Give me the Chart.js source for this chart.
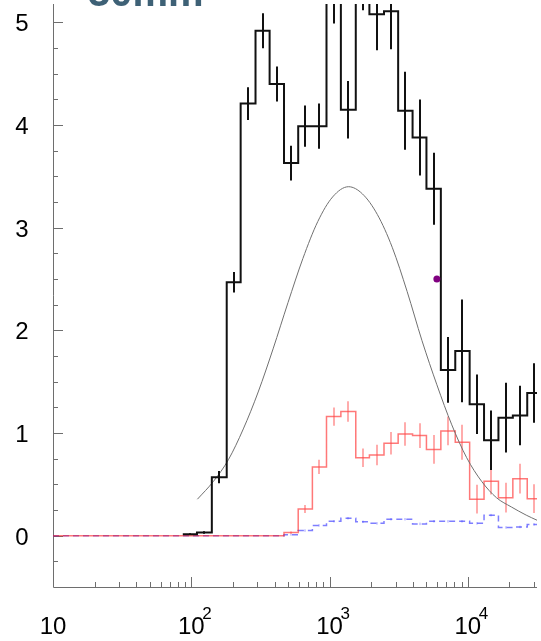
<!DOCTYPE html>
<html>
<head>
<meta charset="utf-8">
<script src="https://cdn.jsdelivr.net/npm/chart.js@4/dist/chart.umd.min.js"></script>
<style>
  html, body { margin: 0; padding: 0; background: #fff; }
  #wrap { width: 541px; height: 641px; position: relative; }
</style>
</head>
<body>
<div id="wrap"><canvas id="chart"></canvas></div>
<script>
// bin edges shared by all three histograms (log x)
const edges = [10, 86.8, 109.9, 140.8, 180.4, 227.5, 291.4, 368.5, 468.3, 593.2, 751.2, 950.1, 1207,
  1547, 1941, 2475, 3133, 3983, 5018, 6378, 8108, 10301, 13092, 16640, 21148, 26877, 34160];

const blackVals = [0, 0.015, 0.03, 0.57, 2.47, 4.21, 4.92, 4.40, 3.63, 3.99, 3.99, 5.35, 4.15,
  5.45, 5.08, 5.11, 4.14, 3.88, 3.38, 1.615, 1.80, 1.28, 0.93, 1.15, 1.17, 1.39];
const blackErrs = [0, 0.008, 0.012, 0.06, 0.1, 0.16, 0.17, 0.17, 0.17, 0.2, 0.22, 0.36, 0.28,
  0.33, 0.35, 0.37, 0.38, 0.37, 0.35, 0.32, 0.5, 0.29, 0.29, 0.34, 0.29, 0.29];

const redVals = [0, 0, 0, 0, 0, 0, 0, 0, 0.03, 0.26, 0.67, 1.16, 1.21,
  0.76, 0.785, 0.90, 0.99, 0.975, 0.84, 1.02, 0.91, 0.355, 0.53, 0.37, 0.555, 0.36];
const redErrs = [0, 0, 0, 0, 0, 0, 0, 0, 0.01, 0.04, 0.07, 0.09, 0.1,
  0.09, 0.1, 0.11, 0.115, 0.12, 0.14, 0.14, 0.17, 0.14, 0.13, 0.145, 0.145, 0.14];

const blueVals = [0, 0, 0, 0, 0, 0, 0, 0, 0.01, 0.05, 0.10, 0.14, 0.17,
  0.135, 0.12, 0.16, 0.16, 0.115, 0.14, 0.14, 0.14, 0.12, 0.20, 0.08, 0.085, 0.11];
const blueErrs = [0, 0, 0, 0, 0, 0, 0, 0, 0.01, 0.012, 0.012, 0.012, 0.012,
  0.012, 0.012, 0.012, 0.012, 0.012, 0.012, 0.012, 0.012, 0.012, 0.012, 0.012, 0.012, 0.012];

// smooth fit curve
const curveX = [110.7, 144.8, 185.5, 237.8, 304.7, 390.4, 500.3, 641.1, 821.4, 1052, 1372, 1728,
  2214, 2838, 3636, 4660, 5971, 7650, 9804, 12564, 16101, 20629, 26430, 31703];
const curveY = [0.355, 0.53, 0.74, 1.04, 1.40, 1.82, 2.27, 2.70, 3.06, 3.30, 3.40, 3.33,
  3.13, 2.81, 2.38, 1.90, 1.47, 1.08, 0.76, 0.53, 0.37, 0.28, 0.20, 0.15];

const markX = [5970];
const markY = [2.5];

const yTickVals = [0, 1, 2, 3, 4, 5];
const xTickVals = [10, 100, 1000, 10000];
const xTickExps = ['', '2', '3', '4'];
const titleText = '30mm';

function stepPoints(vals, from) {
  const pts = [];
  for (let i = from; i < vals.length; i++) pts.push({ x: edges[i], y: vals[i] });
  pts.push({ x: edges[vals.length], y: vals[vals.length - 1] });
  return pts;
}

const FONT = '"Liberation Sans", Arial, Helvetica, sans-serif';

// ROOT-like axes, ticks inside the frame
const axesPlugin = {
  id: 'rootAxes',
  beforeDatasetsDraw(chart) {
    const { ctx, chartArea: a, scales: { x, y } } = chart;
    ctx.save();
    ctx.strokeStyle = '#6e6e6e';
    ctx.lineWidth = 1;
    ctx.beginPath();
    ctx.moveTo(a.left + 0.5, a.top);
    ctx.lineTo(a.left + 0.5, a.bottom + 0.5);
    ctx.lineTo(a.right, a.bottom + 0.5);
    // y ticks every 0.25, major at integers
    for (let v = -0.25; v <= 5.2; v += 0.25) {
      const py = Math.round(y.getPixelForValue(v)) + 0.5;
      const len = Math.abs(v - Math.round(v)) < 1e-6 ? 10 : 5;
      ctx.moveTo(a.left, py);
      ctx.lineTo(a.left + len, py);
    }
    // x ticks, 1..9 per decade
    for (let d = 10; d <= 10000; d *= 10) {
      for (let m = 1; m <= 9; m++) {
        const v = d * m;
        if (v <= 10 || v > x.max) continue;
        const px = Math.round(x.getPixelForValue(v)) + 0.5;
        const len = m === 1 ? 10 : 5;
        ctx.moveTo(px, a.bottom);
        ctx.lineTo(px, a.bottom - len);
      }
    }
    ctx.stroke();

    // labels
    ctx.fillStyle = '#000';
    ctx.font = '24px ' + FONT;
    ctx.textAlign = 'center';
    ctx.textBaseline = 'alphabetic';
    yTickVals.forEach(v => {
      ctx.fillText(String(v), 22, y.getPixelForValue(v) + 9);
    });
    xTickVals.forEach((v, i) => {
      const px = x.getPixelForValue(v);
      ctx.font = '24px ' + FONT;
      ctx.textAlign = 'center';
      ctx.fillText('10', px, a.bottom + 47);
      if (xTickExps[i]) {
        ctx.font = '17px ' + FONT;
        ctx.textAlign = 'left';
        ctx.fillText(xTickExps[i], px + 11, a.bottom + 32);
      }
    });

    // cut-off title at the top
    ctx.fillStyle = '#3e6176';
    ctx.font = 'bold 40px ' + FONT;
    ctx.textAlign = 'left';
    ctx.fillText(titleText, 88, 6);
    ctx.restore();
  },
  afterDatasetDraw(chart, args) {
    const ds = chart.data.datasets[args.index];
    if (!ds.errs) return;
    const { ctx, chartArea: a, scales: { x, y } } = chart;
    ctx.save();
    ctx.beginPath();
    ctx.rect(a.left, a.top, a.right - a.left, a.bottom - a.top);
    ctx.clip();
    ctx.strokeStyle = ds.errColor;
    ctx.lineWidth = ds.errWidth;
    ctx.setLineDash([]);
    ds.errs.forEach((e, i) => {
      if (!e) return;
      const cx = Math.round(x.getPixelForValue(Math.sqrt(edges[i] * edges[i + 1])));
      ctx.beginPath();
      ctx.moveTo(cx, y.getPixelForValue(ds.vals[i] - e));
      ctx.lineTo(cx, y.getPixelForValue(ds.vals[i] + e));
      ctx.stroke();
    });
    ctx.restore();
  }
};

const ctx = document.getElementById('chart').getContext('2d');
new Chart(ctx, {
  type: 'line',
  data: {
    datasets: [
      {
        label: 'point',
        type: 'scatter',
        data: markX.map((v, i) => ({ x: v, y: markY[i] })),
        pointRadius: 3.5,
        pointBackgroundColor: '#800080',
        pointBorderWidth: 0
      },
      {
        label: 'data',
        data: stepPoints(blackVals, 1),
        vals: blackVals, errs: blackErrs, errColor: '#111', errWidth: 2,
        stepped: true,
        borderColor: '#111',
        borderWidth: 2,
        pointRadius: 0
      },
      {
        label: 'fit',
        data: curveX.map((v, i) => ({ x: v, y: curveY[i] })),
        borderColor: '#707070',
        borderWidth: 1,
        pointRadius: 0,
        cubicInterpolationMode: 'monotone'
      },
      {
        label: 'red',
        data: stepPoints(redVals, 0),
        vals: redVals, errs: redErrs, errColor: 'rgba(255,70,70,0.45)', errWidth: 2,
        stepped: true,
        borderColor: 'rgba(255,30,30,0.6)',
        borderWidth: 1.5,
        pointRadius: 0
      },
      {
        label: 'blue',
        data: stepPoints(blueVals, 0),
        vals: blueVals, errs: blueErrs, errColor: 'rgba(60,60,255,0.5)', errWidth: 1,
        stepped: true,
        borderColor: 'rgba(40,40,255,0.6)',
        borderWidth: 1.5,
        borderDash: [6, 4],
        pointRadius: 0
      }
    ]
  },
  options: {
    responsive: true,
    maintainAspectRatio: false,
    animation: false,
    layout: { padding: { left: 53, right: 0, top: 0, bottom: 54 } },
    plugins: { legend: { display: false }, tooltip: { enabled: false } },
    scales: {
      x: { type: 'logarithmic', min: 10, max: 31623, display: false },
      y: { type: 'linear', min: -0.5, max: 5.18, display: false }
    }
  },
  plugins: [axesPlugin]
});
</script>
</body>
</html>
